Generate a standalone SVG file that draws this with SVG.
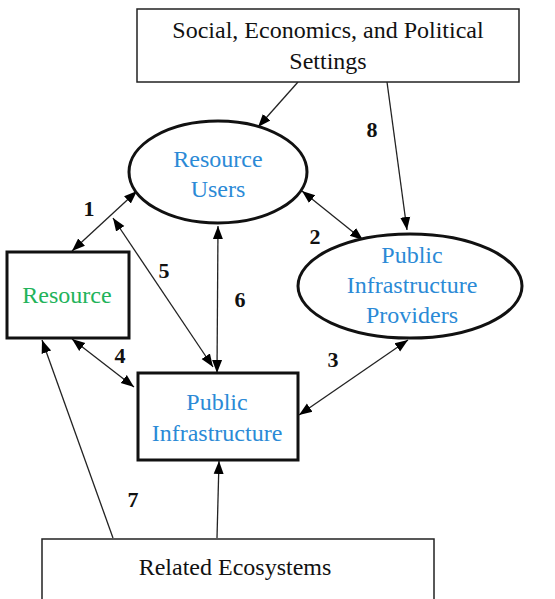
<svg xmlns="http://www.w3.org/2000/svg" width="555" height="599" viewBox="0 0 555 599" font-family="'Liberation Serif', 'DejaVu Serif', serif">
<style>
.t{font-size:24px;text-anchor:middle;fill:#111}
.b{fill:#2b8ad6}
.g{fill:#22b35a}
.n{font-size:22px;font-weight:bold;text-anchor:middle;fill:#111}
.thin{fill:#fff;stroke:#222;stroke-width:1.5}
.thick{fill:#fff;stroke:#111;stroke-width:3}
.c line{stroke:#222;stroke-width:1.3}
</style>
<defs>
<marker id="a" markerUnits="userSpaceOnUse" markerWidth="14" markerHeight="12" refX="13" refY="5" orient="auto-start-reverse" viewBox="0 0 14 10">
<path d="M0,0 L13,5 L0,10 z" fill="#000"/>
</marker>
</defs>
<g class="c">
<line x1="298" y1="82" x2="258" y2="127" marker-end="url(#a)"/>
<line x1="387" y1="82" x2="407" y2="230" marker-end="url(#a)"/>
<line x1="72" y1="251" x2="137" y2="191" marker-start="url(#a)" marker-end="url(#a)"/>
<line x1="302" y1="191" x2="363" y2="240" marker-start="url(#a)" marker-end="url(#a)"/>
<line x1="113" y1="218" x2="213" y2="367" marker-start="url(#a)" marker-end="url(#a)"/>
<line x1="218" y1="226" x2="217" y2="373" marker-start="url(#a)" marker-end="url(#a)"/>
<line x1="72" y1="339" x2="134" y2="387" marker-start="url(#a)" marker-end="url(#a)"/>
<line x1="408" y1="340" x2="299" y2="415" marker-start="url(#a)" marker-end="url(#a)"/>
<line x1="113" y1="538" x2="42" y2="340" marker-end="url(#a)"/>
<line x1="217" y1="538" x2="219" y2="461" marker-end="url(#a)"/>
</g>
<g id="settings">
<rect class="thin" x="137" y="9" width="382" height="73"/>
<text class="t" x="328" y="38">Social, Economics, and Political</text>
<text class="t" x="328" y="69">Settings</text>
</g>
<g id="users">
<ellipse class="thick" cx="218" cy="172" rx="89" ry="51" stroke-width="2.5"/>
<text class="t b" x="218" y="167">Resource</text>
<text class="t b" x="218" y="197">Users</text>
</g>
<g id="providers">
<ellipse class="thick" cx="410" cy="286" rx="112" ry="52" stroke-width="2.5"/>
<text class="t b" x="412" y="263">Public</text>
<text class="t b" x="412" y="293">Infrastructure</text>
<text class="t b" x="412" y="323">Providers</text>
</g>
<g id="resource">
<rect class="thick" x="7" y="252" width="122" height="86"/>
<text class="t g" x="67" y="303">Resource</text>
</g>
<g id="infrastructure">
<rect class="thick" x="138" y="373" width="160" height="87"/>
<text class="t b" x="217" y="410">Public</text>
<text class="t b" x="217" y="441">Infrastructure</text>
</g>
<g id="ecosystems">
<rect class="thin" x="42" y="539" width="392" height="62"/>
<text class="t" x="235" y="575">Related Ecosystems</text>
</g>
<g id="labels">
<text class="n" x="372" y="137">8</text>
<text class="n" x="89" y="216">1</text>
<text class="n" x="315" y="244">2</text>
<text class="n" x="164" y="278">5</text>
<text class="n" x="240" y="307">6</text>
<text class="n" x="120" y="363">4</text>
<text class="n" x="333" y="367">3</text>
<text class="n" x="133" y="507">7</text>
</g>
</svg>
